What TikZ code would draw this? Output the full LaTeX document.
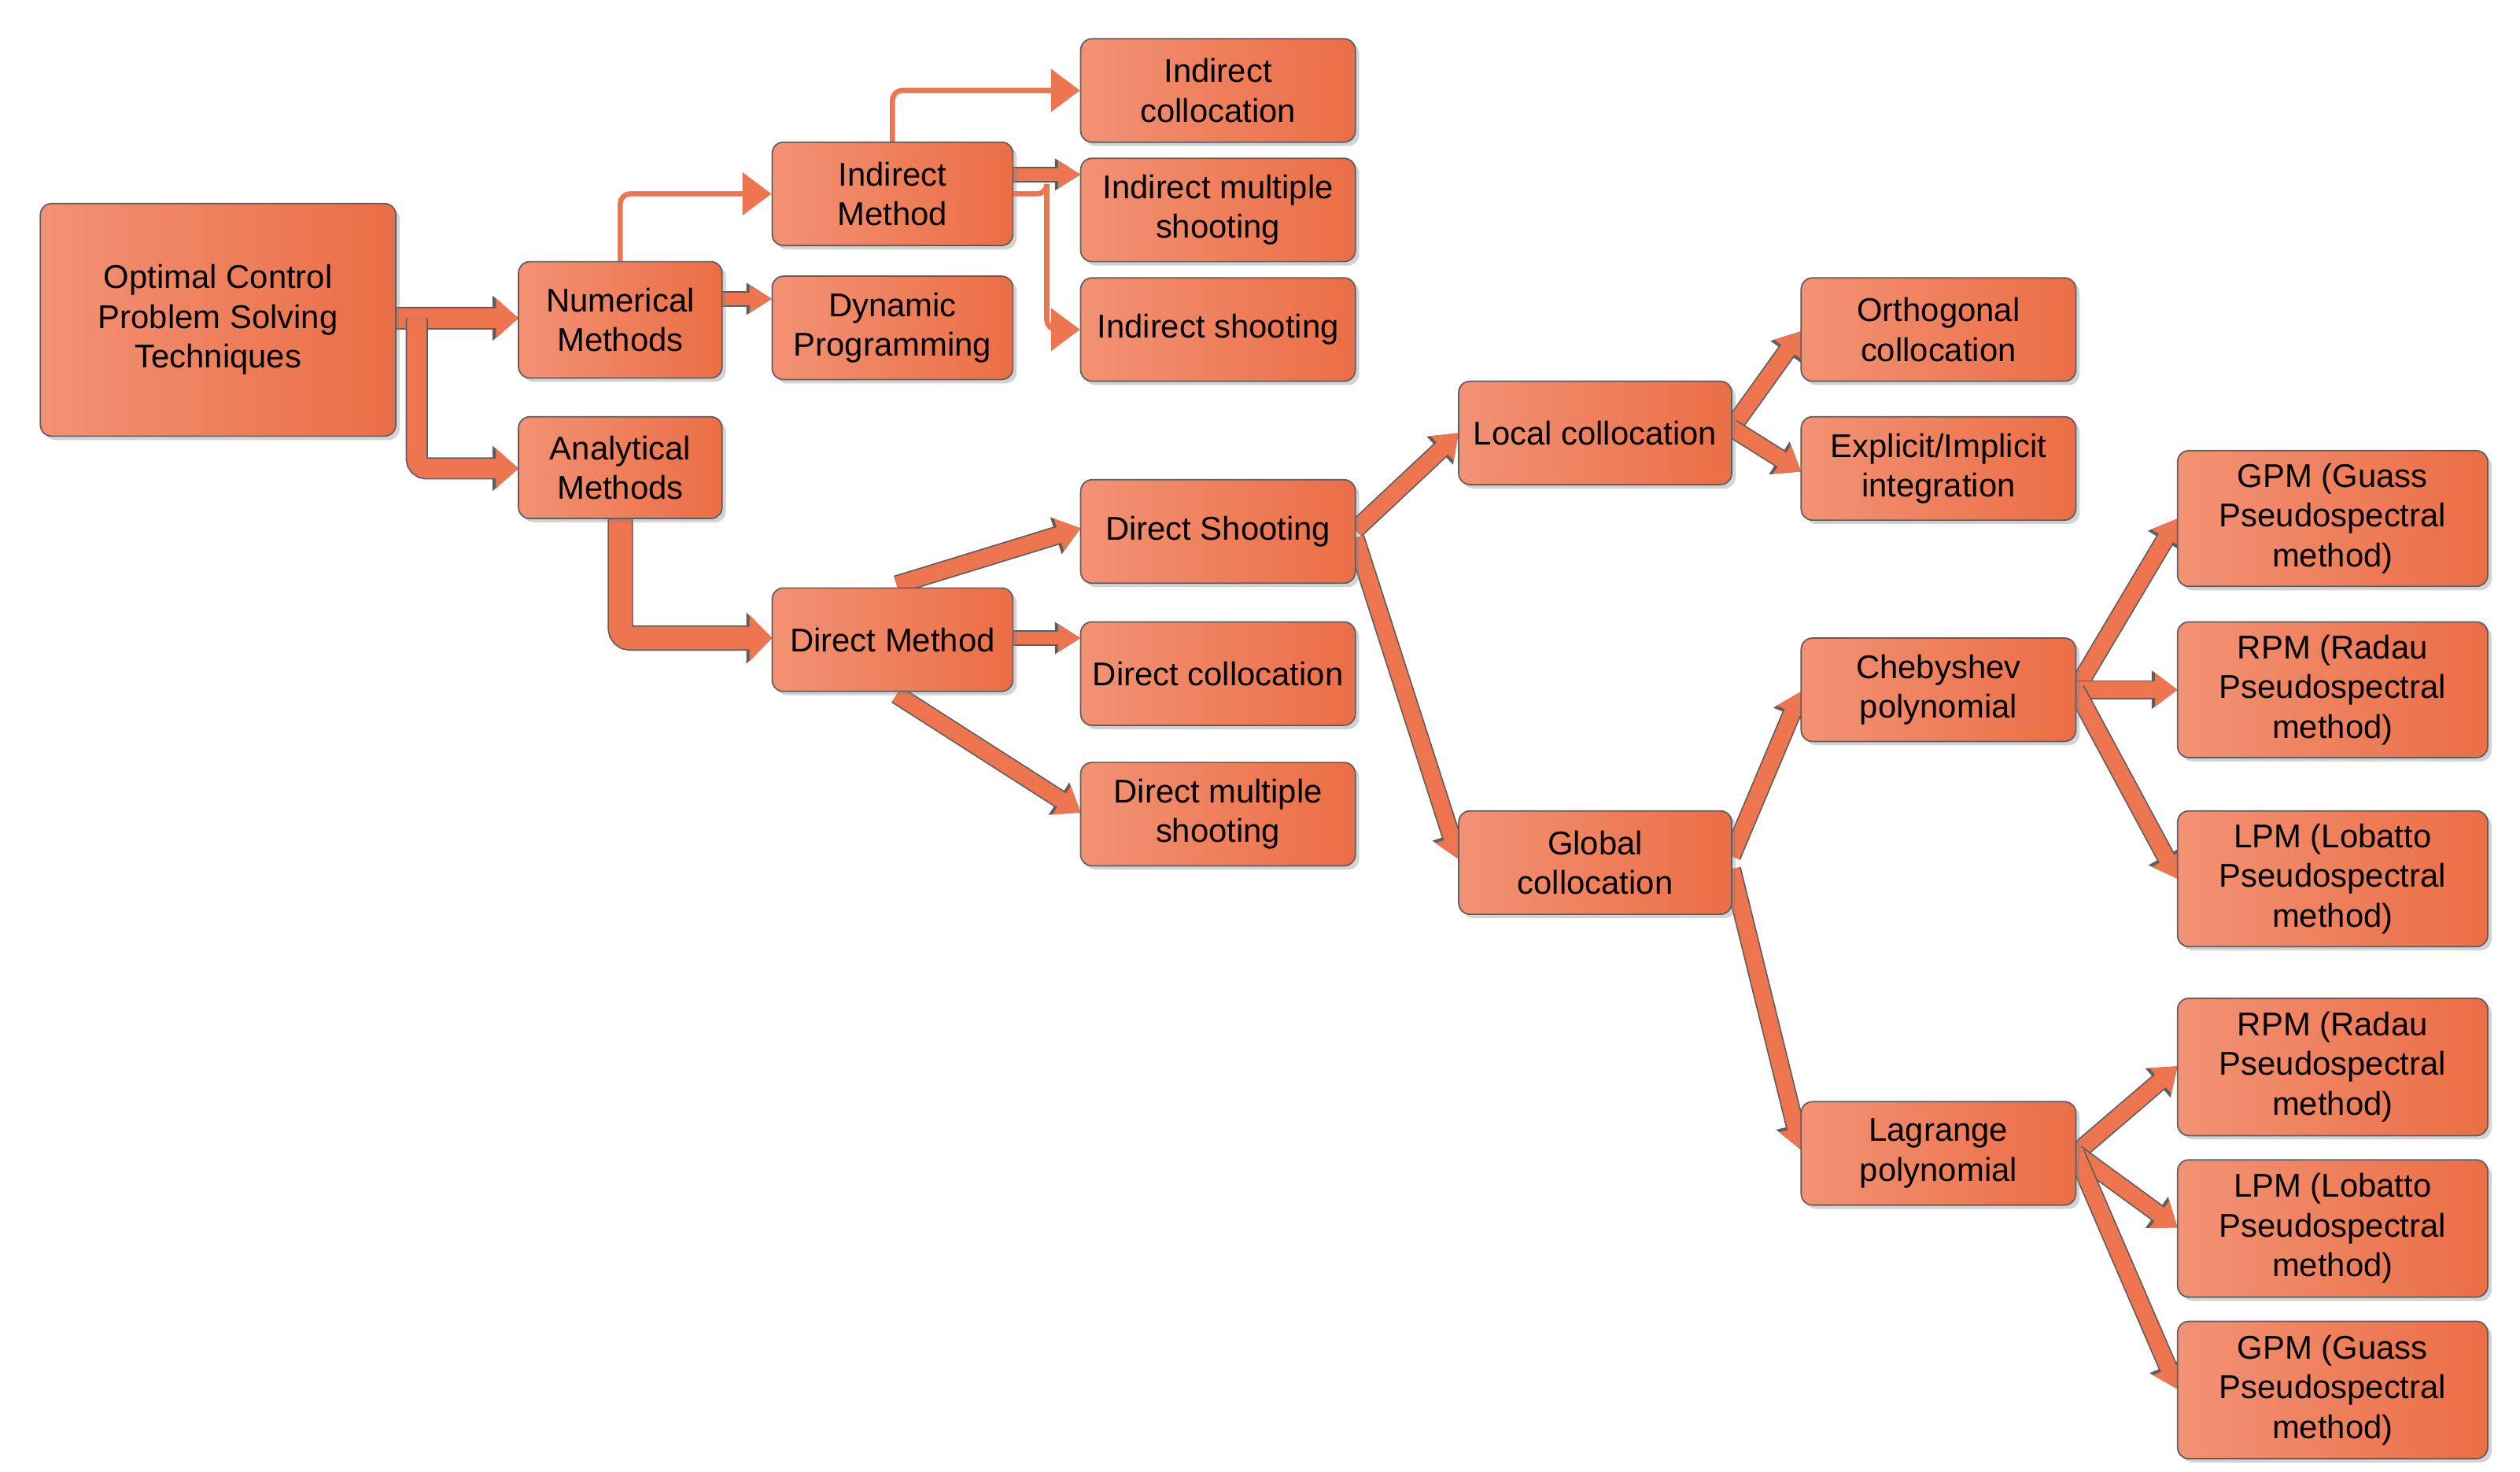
\documentclass[tikz,border=0pt]{standalone}
\usepackage{fontspec}
\setmainfont{Liberation Sans}
\usetikzlibrary{arrows.meta,shadows,calc}
\definecolor{bl}{HTML}{F29274}
\definecolor{bd}{HTML}{EB6E45}
\definecolor{ln}{HTML}{ED7550}
\definecolor{brd}{HTML}{5E5E5E}
\tikzset{
  box/.style={draw=brd, line width=1.2pt, rounded corners=0.35cm, left color=bl, right color=bd,
    align=center, inner sep=0pt, font=\fontsize{29}{35}\selectfont,
    drop shadow={shadow xshift=0.12cm, shadow yshift=-0.12cm, opacity=0.35}},
  thin/.style={draw=ln, line width=0.16cm, rounded corners=0.3cm, -{Triangle[length=0.9cm,width=1.3cm]}},
  fat/.style={line width=#1, ln, -{Triangle[length=0.7cm,width=#1*2]},
    preaction={draw=brd, line width=#1+2.4pt, -{Triangle[length=0.8cm,width=#1*2+4pt]}}},
  fat/.default=0.5cm
}
\newcommand{\bx}[6]{\node[box, minimum width={(#4-#2)*0.05cm}, minimum height={(#5-#3)*0.05cm}] (#1) at ({(#2+#4)/2},{-(#3+#5)/2}) {#6};}
\begin{document}
\begin{tikzpicture}[x=0.05cm,y=0.05cm]
\useasboundingbox (0,0) rectangle (1560,-911);
% connectors first (under boxes)
\coordinate (a1) at (245,-197);
\coordinate (a2) at (321,-197);
\draw[fat=0.6cm] (a1) -- (a2);
\coordinate (b1) at (258,-197);
\coordinate (b2) at (321,-290);
\draw[fat=0.6cm, rounded corners=0.3cm] (b1) |- (b2);
\coordinate (c1) at (384,-321);
\coordinate (c2) at (478,-395);
\draw[fat=0.7cm, rounded corners=0.3cm] (c1) |- (c2);
\coordinate (d1) at (447,-185);
\coordinate (d2) at (478,-185);
\draw[fat=0.4cm] (d1) -- (d2);
\coordinate (e1) at (627,-108);
\coordinate (e2) at (669,-108);
\draw[fat=0.4cm] (e1) -- (e2);
\coordinate (f1) at (627,-395);
\coordinate (f2) at (669,-395);
\draw[fat=0.4cm] (f1) -- (f2);
\coordinate (g1) at (555,-362);
\coordinate (g2) at (669,-327);
\draw[fat] (g1) -- (g2);
\coordinate (h1) at (555,-430);
\coordinate (h2) at (669,-503);
\draw[fat] (h1) -- (h2);
\coordinate (i1) at (839,-328);
\coordinate (i2) at (903,-268);
\draw[fat] (i1) -- (i2);
\coordinate (j1) at (839,-333);
\coordinate (j2) at (903,-532);
\draw[fat] (j1) -- (j2);
\coordinate (k1) at (1072,-265);
\coordinate (k2) at (1115,-205);
\coordinate (k3) at (1115,-292);
\draw[fat] (k1) -- (k2);
\draw[fat] (k1) -- (k3);
\coordinate (l1) at (1072,-530);
\coordinate (l2) at (1115,-428);
\draw[fat] (l1) -- (l2);
\coordinate (m1) at (1072,-538);
\coordinate (m2) at (1115,-712);
\draw[fat] (m1) -- (m2);
\coordinate (n1) at (1285,-427);
\coordinate (n2) at (1348,-321);
\coordinate (n3) at (1348,-427);
\coordinate (n4) at (1348,-544);
\draw[fat] (n1) -- (n2);
\draw[fat] (n1) -- (n3);
\draw[fat] (n1) -- (n4);
\coordinate (o1) at (1285,-714);
\coordinate (o2) at (1348,-660);
\coordinate (o3) at (1348,-760);
\coordinate (o4) at (1348,-860);
\draw[fat] (o1) -- (o2);
\draw[fat] (o1) -- (o3);
\draw[fat] (o1) -- (o4);
% boxes
\bx{opt}{25}{126}{245}{270}{Optimal Control\\Problem Solving\\Techniques}
\bx{num}{321}{162}{447}{234}{Numerical\\Methods}
\bx{ana}{321}{258}{447}{321}{Analytical\\Methods}
\bx{im}{478}{88}{627}{152}{Indirect\\Method}
\bx{dp}{478}{171}{627}{235}{Dynamic\\Programming}
\bx{dm}{478}{364}{627}{428}{Direct Method}
\bx{ic}{669}{24}{839}{88}{Indirect\\collocation}
\bx{ims}{669}{98}{839}{162}{Indirect multiple\\shooting}
\bx{is}{669}{172}{839}{236}{Indirect shooting}
\bx{ds}{669}{297}{839}{361}{Direct Shooting}
\bx{dc}{669}{385}{839}{449}{Direct collocation}
\bx{dms}{669}{472}{839}{536}{Direct multiple\\shooting}
\bx{lc}{903}{236}{1072}{300}{Local collocation}
\bx{gc}{903}{502}{1072}{566}{Global\\collocation}
\bx{oc}{1115}{172}{1285}{236}{Orthogonal\\collocation}
\bx{ei}{1115}{258}{1285}{322}{Explicit/Implicit\\integration}
\bx{ch}{1115}{395}{1285}{459}{Chebyshev\\polynomial}
\bx{lg}{1115}{682}{1285}{746}{Lagrange\\polynomial}
\bx{g1}{1348}{279}{1540}{363}{GPM (Guass\\Pseudospectral\\method)}
\bx{r1}{1348}{385}{1540}{469}{RPM (Radau\\Pseudospectral\\method)}
\bx{l1}{1348}{502}{1540}{586}{LPM (Lobatto\\Pseudospectral\\method)}
\bx{r2}{1348}{618}{1540}{703}{RPM (Radau\\Pseudospectral\\method)}
\bx{l2}{1348}{718}{1540}{803}{LPM (Lobatto\\Pseudospectral\\method)}
\bx{g2}{1348}{818}{1540}{903}{GPM (Guass\\Pseudospectral\\method)}
% thin connectors
\draw[thin] (num.north) |- (im.west);
\draw[thin] (im.north) |- (ic.west);
\draw[thin] ($(im.east)+(0,0)$) -| ($(im.east)!0.5!(is.west|-im.east)$) |- (is.west);
\end{tikzpicture}
\end{document}
